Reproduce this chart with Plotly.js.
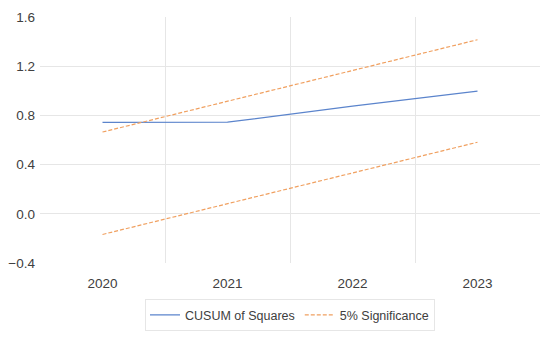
<!DOCTYPE html>
<html>
<head>
<meta charset="utf-8">
<script src="https://cdn.plot.ly/plotly-3.0.1.min.js"></script>
<style>html,body{margin:0;padding:0;background:#fff;}#chart{width:550px;height:341px;}</style>
</head>
<body>
<div id="chart"></div>
<script>
const years = ["2020", "2021", "2022", "2023"];
const cusumSquares = [0.744, 0.745, 0.875, 0.997];
const upperBound = [0.665, 0.915, 1.165, 1.415];
const lowerBound = [-0.168, 0.082, 0.332, 0.582];
const yTicks = [-0.4, 0.0, 0.4, 0.8, 1.2, 1.6];
const yTickText = ["\u22120.4", "0.0", "0.4", "0.8", "1.2", "1.6"];

const blue = "#5B84CC";
const orange = "#F0A060";

const traces = [
  {x: years, y: cusumSquares, type: "scatter", mode: "lines", name: "CUSUM of Squares",
   line: {color: blue, width: 1.2}},
  {x: years, y: upperBound, type: "scatter", mode: "lines", name: "5% Significance",
   line: {color: orange, width: 1.2, dash: "4px,2px"}, legendgroup: "sig"},
  {x: years, y: lowerBound, type: "scatter", mode: "lines", name: "5% Significance",
   line: {color: orange, width: 1.2, dash: "4px,2px"}, legendgroup: "sig", showlegend: false}
];

const layout = {
  width: 550, height: 341,
  margin: {l: 40, r: 10, t: 17, b: 74},
  paper_bgcolor: "#fff", plot_bgcolor: "#fff",
  font: {family: "Liberation Sans, Arial, sans-serif", size: 13, color: "#404040"},
  showlegend: true,
  legend: {orientation: "h", x: 0.5, xanchor: "center", y: -0.212, yanchor: "middle",
           bordercolor: "#E6E6E6", borderwidth: 1, font: {size: 12.5, color: "#404040"},
           itemwidth: 30, tracegroupgap: 0},
  xaxis: {type: "category", tickson: "boundaries", showgrid: true, gridcolor: "#E6E6E6",
          gridwidth: 1, zeroline: false, showline: false, ticks: "", range: [-0.5, 3.5],
          tickfont: {size: 13.5, color: "#404040"}, ticklabelstandoff: 10},
  yaxis: {range: [-0.4, 1.6], tickvals: yTicks, ticktext: yTickText, showgrid: true,
          gridcolor: "#E6E6E6", gridwidth: 1, zeroline: false, showline: false, ticks: "",
          tickfont: {size: 13.5, color: "#404040"}, ticklabelstandoff: 4}
};

Plotly.newPlot("chart", traces, layout, {displayModeBar: false, staticPlot: true});
</script>
</body>
</html>
